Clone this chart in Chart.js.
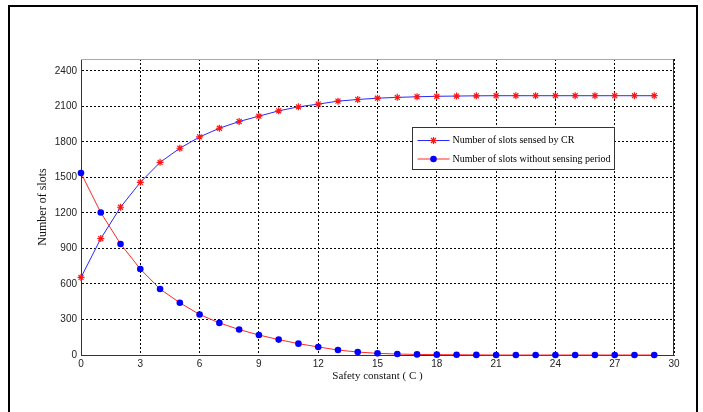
<!DOCTYPE html>
<html>
<head>
<meta charset="utf-8">
<script src="https://cdn.jsdelivr.net/npm/chart.js@4"></script>
<style>
  body { margin: 0; background: #fff; }
  #frame { position: absolute; left: 8px; top: 5px; width: 686px; height: 420px; border: 2px solid #000; }
  #wrap { position: absolute; left: 0; top: 0; width: 703px; height: 412px; }
</style>
</head>
<body>
<div id="frame"></div>
<div id="wrap"><canvas id="myChart" width="703" height="412"></canvas></div>
<script>
// x axis: safety constant C
const safetyC = [0, 1, 2, 3, 4, 5, 6, 7, 8, 9, 10, 11, 12, 13, 14, 15, 16, 17, 18, 19, 20, 21, 22, 23, 24, 25, 26, 27, 28, 29];
// number of slots sensed by CR
const sensedByCR = [655, 983, 1248, 1458, 1627, 1746, 1842, 1915, 1972, 2017, 2062, 2096, 2119, 2144, 2158, 2169, 2176, 2181, 2185, 2187, 2189, 2190, 2190, 2190, 2190, 2190, 2190, 2190, 2190, 2190];
// number of slots without sensing period
const withoutSensing = [1537, 1203, 938, 726, 557, 441, 342, 271, 215, 169, 130, 96, 68, 42, 25, 14, 8, 5, 3, 2, 1, 0, 0, 0, 0, 0, 0, 0, 0, 0];

const seriesLabels = ['Number of slots sensed by CR', 'Number of slots without sensing period'];

// box around plot + legend, MATLAB style
const boxLegend = {
  id: 'boxLegend',
  afterDraw(chart) {
    const ctx = chart.ctx;
    const a = chart.chartArea;
    ctx.save();
    // top border (light) and right border
    ctx.lineWidth = 1;
    ctx.strokeStyle = '#aaa';
    ctx.beginPath();
    ctx.moveTo(a.left, a.top + 0.5);
    ctx.lineTo(a.right, a.top + 0.5);
    ctx.stroke();
    ctx.strokeStyle = '#333';
    ctx.beginPath();
    ctx.moveTo(a.right - 0.5, a.top);
    ctx.lineTo(a.right - 0.5, a.bottom);
    ctx.stroke();

    // legend
    const lx = Math.round(a.left + (a.right - a.left) * 0.558) + 0.5;
    const ly = Math.round(a.top + (a.bottom - a.top) * 0.23) + 0.5;
    const lw = 202, lh = 42;
    ctx.fillStyle = '#fff';
    ctx.fillRect(lx, ly, lw, lh);
    ctx.strokeStyle = '#333';
    ctx.strokeRect(lx, ly, lw, lh);
    ctx.font = '10px "Liberation Serif"';
    ctx.textBaseline = 'middle';
    chart.data.datasets.forEach((ds, i) => {
      const y = ly + 13 + i * 18.5;
      ctx.strokeStyle = ds.borderColor;
      ctx.lineWidth = 1;
      ctx.beginPath();
      ctx.moveTo(lx + 5, y);
      ctx.lineTo(lx + 37, y);
      ctx.stroke();
      ctx.fillStyle = ds.pointBackgroundColor;
      ctx.strokeStyle = ds.pointBorderColor;
      ctx.lineWidth = ds.pointBorderWidth;
      if (ds.pointStyle === 'circle') {
        ctx.beginPath();
        ctx.arc(lx + 21, y, ds.pointRadius, 0, Math.PI * 2);
        ctx.fill();
      } else {
        Chart.helpers.drawPoint(ctx, { pointStyle: ds.pointStyle, radius: ds.pointRadius, rotation: 0, borderWidth: ds.pointBorderWidth }, lx + 21, y);
      }
      ctx.fillStyle = '#000';
      ctx.fillText(ds.label, lx + 40, y);
    });
    ctx.restore();
  }
};

const ctx = document.querySelector('#myChart').getContext('2d');

new Chart(ctx, {
  type: 'line',
  data: {
    labels: safetyC,
    datasets: [
      {
        label: seriesLabels[0],
        data: safetyC.map((c, i) => ({ x: c, y: sensedByCR[i] })),
        borderColor: 'rgb(40, 40, 255)',
        borderWidth: 1,
        pointStyle: 'star',
        pointRadius: 3.5,
        pointBorderWidth: 1.2,
        pointBorderColor: 'rgb(255, 20, 20)',
        pointBackgroundColor: 'rgb(255, 20, 20)',
        clip: false,
        tension: 0
      },
      {
        label: seriesLabels[1],
        data: safetyC.map((c, i) => ({ x: c, y: withoutSensing[i] })),
        borderColor: 'rgb(255, 40, 40)',
        borderWidth: 1,
        pointStyle: 'circle',
        pointRadius: 3.3,
        pointBorderWidth: 0,
        pointBorderColor: 'rgb(0, 0, 255)',
        pointBackgroundColor: 'rgb(0, 0, 255)',
        clip: false,
        tension: 0
      }
    ]
  },
  options: {
    responsive: false,
    animation: false,
    layout: { padding: { left: 36, top: 59, right: 29, bottom: 29 } },
    plugins: { legend: { display: false }, tooltip: { enabled: false } },
    scales: {
      x: {
        type: 'linear',
        min: 0,
        max: 30,
        afterFit: s => { s.height = 28; },
        ticks: { stepSize: 3, padding: 3, color: '#222', font: { family: '"Liberation Sans"', size: 10 }, maxRotation: 0, callback: v => String(v) },
        grid: { color: '#000', lineWidth: 1, drawTicks: false },
        border: { color: '#333', width: 1, dash: [2, 2] },
        title: { display: true, text: 'Safety constant ( C )', color: '#111', padding: 0, font: { family: '"Liberation Serif"', size: 11 } }
      },
      y: {
        min: 0,
        max: 2500,
        afterFit: s => { s.width = 45; },
        ticks: { stepSize: 300, includeBounds: false, padding: 4, color: '#222', font: { family: '"Liberation Sans"', size: 10 }, callback: v => String(v) },
        grid: { color: '#000', lineWidth: 1, drawTicks: false },
        border: { color: '#333', width: 1, dash: [2, 2] },
        title: { display: true, text: 'Number of slots', color: '#111', padding: 0, font: { family: '"Liberation Serif"', size: 12 } }
      }
    }
  },
  plugins: [boxLegend]
});
</script>
</body>
</html>
